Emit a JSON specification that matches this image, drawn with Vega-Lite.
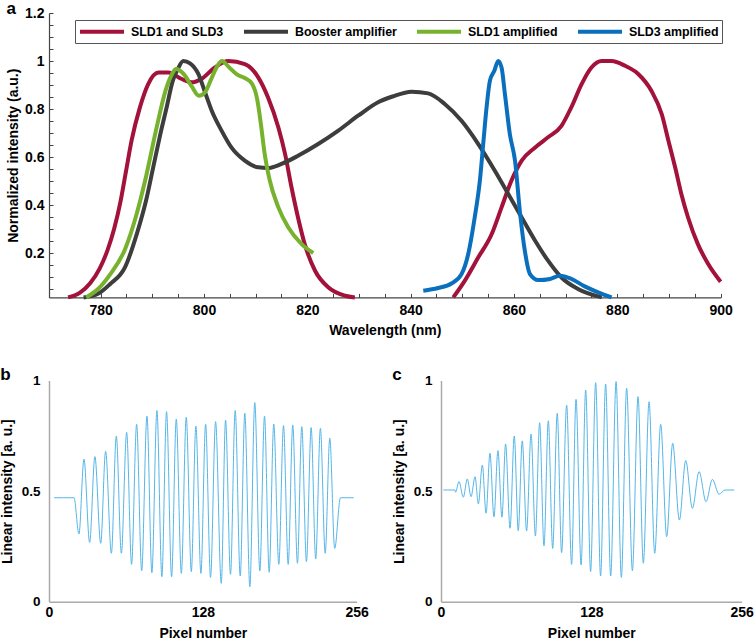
{
  "$schema": "https://vega.github.io/schema/vega-lite/v6.json",
  "padding": {"left": 0, "top": 0, "right": 0, "bottom": 0},
  "background": "white",
  "config": {
    "font": "Liberation Sans",
    "view": {"stroke": null},
    "title": {"fontSize": 17, "fontWeight": "bold", "anchor": "start", "frame": "bounds", "offset": -10, "baseline": "alphabetic", "color": "black"},
    "axis": {"labelFontWeight": "bold", "titleFontWeight": "bold", "labelColor": "black", "titleColor": "black", "grid": false, "labelOverlap": false, "labelFlush": false, "labelFontSize": 14, "titleFontSize": 14}
  },
  "datasets": {
    "spec": [
      {"series": "SLD1 and SLD3", "seg": "r1", "wl": 773.7, "v": 0.015},
      {"series": "SLD1 and SLD3", "seg": "r1", "wl": 776.0, "v": 0.035},
      {"series": "SLD1 and SLD3", "seg": "r1", "wl": 778.0, "v": 0.075},
      {"series": "SLD1 and SLD3", "seg": "r1", "wl": 779.8, "v": 0.135},
      {"series": "SLD1 and SLD3", "seg": "r1", "wl": 781.3, "v": 0.21},
      {"series": "SLD1 and SLD3", "seg": "r1", "wl": 782.6, "v": 0.3},
      {"series": "SLD1 and SLD3", "seg": "r1", "wl": 783.8, "v": 0.41},
      {"series": "SLD1 and SLD3", "seg": "r1", "wl": 784.9, "v": 0.54},
      {"series": "SLD1 and SLD3", "seg": "r1", "wl": 786.0, "v": 0.67},
      {"series": "SLD1 and SLD3", "seg": "r1", "wl": 787.6, "v": 0.807},
      {"series": "SLD1 and SLD3", "seg": "r1", "wl": 789.2, "v": 0.904},
      {"series": "SLD1 and SLD3", "seg": "r1", "wl": 791.2, "v": 0.952},
      {"series": "SLD1 and SLD3", "seg": "r1", "wl": 793.1, "v": 0.952},
      {"series": "SLD1 and SLD3", "seg": "r1", "wl": 795.7, "v": 0.925},
      {"series": "SLD1 and SLD3", "seg": "r1", "wl": 797.6, "v": 0.911},
      {"series": "SLD1 and SLD3", "seg": "r1", "wl": 799.5, "v": 0.925},
      {"series": "SLD1 and SLD3", "seg": "r1", "wl": 802.1, "v": 0.973},
      {"series": "SLD1 and SLD3", "seg": "r1", "wl": 804.7, "v": 1.0},
      {"series": "SLD1 and SLD3", "seg": "r1", "wl": 807.9, "v": 0.987},
      {"series": "SLD1 and SLD3", "seg": "r1", "wl": 810.5, "v": 0.932},
      {"series": "SLD1 and SLD3", "seg": "r1", "wl": 812.4, "v": 0.848},
      {"series": "SLD1 and SLD3", "seg": "r1", "wl": 814.4, "v": 0.723},
      {"series": "SLD1 and SLD3", "seg": "r1", "wl": 815.7, "v": 0.612},
      {"series": "SLD1 and SLD3", "seg": "r1", "wl": 816.95, "v": 0.473},
      {"series": "SLD1 and SLD3", "seg": "r1", "wl": 818.2, "v": 0.348},
      {"series": "SLD1 and SLD3", "seg": "r1", "wl": 819.5, "v": 0.237},
      {"series": "SLD1 and SLD3", "seg": "r1", "wl": 821.5, "v": 0.126},
      {"series": "SLD1 and SLD3", "seg": "r1", "wl": 824.05, "v": 0.057},
      {"series": "SLD1 and SLD3", "seg": "r1", "wl": 827.3, "v": 0.022},
      {"series": "SLD1 and SLD3", "seg": "r1", "wl": 829.2, "v": 0.015},
      {"series": "SLD1 and SLD3", "seg": "r2", "wl": 848.25, "v": 0.015},
      {"series": "SLD1 and SLD3", "seg": "r2", "wl": 850.5, "v": 0.085},
      {"series": "SLD1 and SLD3", "seg": "r2", "wl": 853.1, "v": 0.182},
      {"series": "SLD1 and SLD3", "seg": "r2", "wl": 855.7, "v": 0.279},
      {"series": "SLD1 and SLD3", "seg": "r2", "wl": 857.6, "v": 0.39},
      {"series": "SLD1 and SLD3", "seg": "r2", "wl": 859.5, "v": 0.501},
      {"series": "SLD1 and SLD3", "seg": "r2", "wl": 861.5, "v": 0.585},
      {"series": "SLD1 and SLD3", "seg": "r2", "wl": 864.1, "v": 0.64},
      {"series": "SLD1 and SLD3", "seg": "r2", "wl": 866.6, "v": 0.682},
      {"series": "SLD1 and SLD3", "seg": "r2", "wl": 869.2, "v": 0.73},
      {"series": "SLD1 and SLD3", "seg": "r2", "wl": 871.1, "v": 0.807},
      {"series": "SLD1 and SLD3", "seg": "r2", "wl": 873.1, "v": 0.904},
      {"series": "SLD1 and SLD3", "seg": "r2", "wl": 875.0, "v": 0.973},
      {"series": "SLD1 and SLD3", "seg": "r2", "wl": 877.0, "v": 1.0},
      {"series": "SLD1 and SLD3", "seg": "r2", "wl": 878.9, "v": 1.0},
      {"series": "SLD1 and SLD3", "seg": "r2", "wl": 881.5, "v": 0.98},
      {"series": "SLD1 and SLD3", "seg": "r2", "wl": 884.05, "v": 0.946},
      {"series": "SLD1 and SLD3", "seg": "r2", "wl": 886.6, "v": 0.876},
      {"series": "SLD1 and SLD3", "seg": "r2", "wl": 888.6, "v": 0.779},
      {"series": "SLD1 and SLD3", "seg": "r2", "wl": 889.9, "v": 0.668},
      {"series": "SLD1 and SLD3", "seg": "r2", "wl": 891.2, "v": 0.557},
      {"series": "SLD1 and SLD3", "seg": "r2", "wl": 892.4, "v": 0.446},
      {"series": "SLD1 and SLD3", "seg": "r2", "wl": 893.7, "v": 0.348},
      {"series": "SLD1 and SLD3", "seg": "r2", "wl": 895.6, "v": 0.237},
      {"series": "SLD1 and SLD3", "seg": "r2", "wl": 897.6, "v": 0.154},
      {"series": "SLD1 and SLD3", "seg": "r2", "wl": 900.0, "v": 0.08},
      {"series": "Booster amplifier", "seg": "k", "wl": 776.7, "v": 0.015},
      {"series": "Booster amplifier", "seg": "k", "wl": 779.5, "v": 0.03},
      {"series": "Booster amplifier", "seg": "k", "wl": 781.8, "v": 0.07},
      {"series": "Booster amplifier", "seg": "k", "wl": 784.7, "v": 0.14},
      {"series": "Booster amplifier", "seg": "k", "wl": 787.0, "v": 0.28},
      {"series": "Booster amplifier", "seg": "k", "wl": 788.8, "v": 0.42},
      {"series": "Booster amplifier", "seg": "k", "wl": 790.2, "v": 0.56},
      {"series": "Booster amplifier", "seg": "k", "wl": 791.5, "v": 0.69},
      {"series": "Booster amplifier", "seg": "k", "wl": 792.7, "v": 0.8},
      {"series": "Booster amplifier", "seg": "k", "wl": 794.0, "v": 0.92},
      {"series": "Booster amplifier", "seg": "k", "wl": 795.0, "v": 0.97},
      {"series": "Booster amplifier", "seg": "k", "wl": 796.0, "v": 1.0},
      {"series": "Booster amplifier", "seg": "k", "wl": 797.3, "v": 0.99},
      {"series": "Booster amplifier", "seg": "k", "wl": 798.9, "v": 0.946},
      {"series": "Booster amplifier", "seg": "k", "wl": 800.2, "v": 0.87},
      {"series": "Booster amplifier", "seg": "k", "wl": 801.5, "v": 0.793},
      {"series": "Booster amplifier", "seg": "k", "wl": 803.4, "v": 0.71},
      {"series": "Booster amplifier", "seg": "k", "wl": 805.3, "v": 0.64},
      {"series": "Booster amplifier", "seg": "k", "wl": 807.9, "v": 0.585},
      {"series": "Booster amplifier", "seg": "k", "wl": 810.5, "v": 0.557},
      {"series": "Booster amplifier", "seg": "k", "wl": 812.4, "v": 0.554},
      {"series": "Booster amplifier", "seg": "k", "wl": 815.0, "v": 0.571},
      {"series": "Booster amplifier", "seg": "k", "wl": 818.2, "v": 0.605},
      {"series": "Booster amplifier", "seg": "k", "wl": 822.1, "v": 0.654},
      {"series": "Booster amplifier", "seg": "k", "wl": 826.0, "v": 0.71},
      {"series": "Booster amplifier", "seg": "k", "wl": 829.9, "v": 0.773},
      {"series": "Booster amplifier", "seg": "k", "wl": 833.7, "v": 0.828},
      {"series": "Booster amplifier", "seg": "k", "wl": 836.5, "v": 0.852},
      {"series": "Booster amplifier", "seg": "k", "wl": 840.2, "v": 0.872},
      {"series": "Booster amplifier", "seg": "k", "wl": 843.4, "v": 0.865},
      {"series": "Booster amplifier", "seg": "k", "wl": 846.6, "v": 0.821},
      {"series": "Booster amplifier", "seg": "k", "wl": 849.85, "v": 0.751},
      {"series": "Booster amplifier", "seg": "k", "wl": 853.1, "v": 0.654},
      {"series": "Booster amplifier", "seg": "k", "wl": 856.3, "v": 0.543},
      {"series": "Booster amplifier", "seg": "k", "wl": 858.9, "v": 0.446},
      {"series": "Booster amplifier", "seg": "k", "wl": 861.5, "v": 0.348},
      {"series": "Booster amplifier", "seg": "k", "wl": 864.1, "v": 0.251},
      {"series": "Booster amplifier", "seg": "k", "wl": 866.6, "v": 0.168},
      {"series": "Booster amplifier", "seg": "k", "wl": 869.2, "v": 0.098},
      {"series": "Booster amplifier", "seg": "k", "wl": 872.4, "v": 0.05},
      {"series": "Booster amplifier", "seg": "k", "wl": 877.0, "v": 0.015},
      {"series": "SLD1 amplified", "seg": "g", "wl": 777.2, "v": 0.015},
      {"series": "SLD1 amplified", "seg": "g", "wl": 779.5, "v": 0.05},
      {"series": "SLD1 amplified", "seg": "g", "wl": 781.8, "v": 0.11},
      {"series": "SLD1 amplified", "seg": "g", "wl": 784.7, "v": 0.215},
      {"series": "SLD1 amplified", "seg": "g", "wl": 786.8, "v": 0.35},
      {"series": "SLD1 amplified", "seg": "g", "wl": 788.8, "v": 0.52},
      {"series": "SLD1 amplified", "seg": "g", "wl": 790.8, "v": 0.72},
      {"series": "SLD1 amplified", "seg": "g", "wl": 792.6, "v": 0.88},
      {"series": "SLD1 amplified", "seg": "g", "wl": 793.8, "v": 0.945},
      {"series": "SLD1 amplified", "seg": "g", "wl": 794.6, "v": 0.967},
      {"series": "SLD1 amplified", "seg": "g", "wl": 796.1, "v": 0.945},
      {"series": "SLD1 amplified", "seg": "g", "wl": 797.6, "v": 0.895},
      {"series": "SLD1 amplified", "seg": "g", "wl": 799.0, "v": 0.855},
      {"series": "SLD1 amplified", "seg": "g", "wl": 800.2, "v": 0.87},
      {"series": "SLD1 amplified", "seg": "g", "wl": 801.5, "v": 0.93},
      {"series": "SLD1 amplified", "seg": "g", "wl": 802.6, "v": 0.98},
      {"series": "SLD1 amplified", "seg": "g", "wl": 803.5, "v": 1.0},
      {"series": "SLD1 amplified", "seg": "g", "wl": 804.8, "v": 0.975},
      {"series": "SLD1 amplified", "seg": "g", "wl": 806.3, "v": 0.945},
      {"series": "SLD1 amplified", "seg": "g", "wl": 807.9, "v": 0.929},
      {"series": "SLD1 amplified", "seg": "g", "wl": 809.3, "v": 0.905},
      {"series": "SLD1 amplified", "seg": "g", "wl": 810.3, "v": 0.84},
      {"series": "SLD1 amplified", "seg": "g", "wl": 811.0, "v": 0.74},
      {"series": "SLD1 amplified", "seg": "g", "wl": 811.7, "v": 0.62},
      {"series": "SLD1 amplified", "seg": "g", "wl": 812.7, "v": 0.505},
      {"series": "SLD1 amplified", "seg": "g", "wl": 814.4, "v": 0.39},
      {"series": "SLD1 amplified", "seg": "g", "wl": 816.3, "v": 0.307},
      {"series": "SLD1 amplified", "seg": "g", "wl": 818.9, "v": 0.237},
      {"series": "SLD1 amplified", "seg": "g", "wl": 821.15, "v": 0.2},
      {"series": "SLD3 amplified", "seg": "b", "wl": 842.45, "v": 0.043},
      {"series": "SLD3 amplified", "seg": "b", "wl": 845.3, "v": 0.054},
      {"series": "SLD3 amplified", "seg": "b", "wl": 847.9, "v": 0.073},
      {"series": "SLD3 amplified", "seg": "b", "wl": 849.85, "v": 0.112},
      {"series": "SLD3 amplified", "seg": "b", "wl": 851.15, "v": 0.196},
      {"series": "SLD3 amplified", "seg": "b", "wl": 852.4, "v": 0.348},
      {"series": "SLD3 amplified", "seg": "b", "wl": 853.4, "v": 0.501},
      {"series": "SLD3 amplified", "seg": "b", "wl": 854.05, "v": 0.654},
      {"series": "SLD3 amplified", "seg": "b", "wl": 854.7, "v": 0.807},
      {"series": "SLD3 amplified", "seg": "b", "wl": 855.35, "v": 0.918},
      {"series": "SLD3 amplified", "seg": "b", "wl": 856.2, "v": 0.959},
      {"series": "SLD3 amplified", "seg": "b", "wl": 856.95, "v": 1.0},
      {"series": "SLD3 amplified", "seg": "b", "wl": 857.6, "v": 0.973},
      {"series": "SLD3 amplified", "seg": "b", "wl": 858.25, "v": 0.862},
      {"series": "SLD3 amplified", "seg": "b", "wl": 859.2, "v": 0.696},
      {"series": "SLD3 amplified", "seg": "b", "wl": 860.2, "v": 0.585},
      {"series": "SLD3 amplified", "seg": "b", "wl": 861.2, "v": 0.362},
      {"series": "SLD3 amplified", "seg": "b", "wl": 862.1, "v": 0.21},
      {"series": "SLD3 amplified", "seg": "b", "wl": 863.1, "v": 0.112},
      {"series": "SLD3 amplified", "seg": "b", "wl": 864.7, "v": 0.087},
      {"series": "SLD3 amplified", "seg": "b", "wl": 867.0, "v": 0.092},
      {"series": "SLD3 amplified", "seg": "b", "wl": 868.9, "v": 0.105},
      {"series": "SLD3 amplified", "seg": "b", "wl": 871.1, "v": 0.092},
      {"series": "SLD3 amplified", "seg": "b", "wl": 873.7, "v": 0.061},
      {"series": "SLD3 amplified", "seg": "b", "wl": 876.3, "v": 0.036},
      {"series": "SLD3 amplified", "seg": "b", "wl": 878.9, "v": 0.015}
    ],
    "b": [
      {"p": 4.2, "v": 0.47}, {"p": 12, "v": 0.47}, {"p": 20.8, "v": 0.47},
      {"p": 24.9, "v": 0.306}, {"p": 29.1, "v": 0.644}, {"p": 33.8, "v": 0.268}, {"p": 38.2, "v": 0.656},
      {"p": 43.0, "v": 0.264}, {"p": 47.1, "v": 0.68}, {"p": 51.9, "v": 0.219}, {"p": 56.0, "v": 0.749},
      {"p": 60.2, "v": 0.219}, {"p": 64.6, "v": 0.766}, {"p": 68.7, "v": 0.169}, {"p": 72.9, "v": 0.802},
      {"p": 77.1, "v": 0.14}, {"p": 81.5, "v": 0.839}, {"p": 85.6, "v": 0.131}, {"p": 89.8, "v": 0.864},
      {"p": 93.9, "v": 0.113}, {"p": 97.8, "v": 0.859}, {"p": 102.0, "v": 0.113}, {"p": 105.9, "v": 0.826},
      {"p": 110.1, "v": 0.128}, {"p": 114.2, "v": 0.834}, {"p": 118.4, "v": 0.136}, {"p": 122.2, "v": 0.794},
      {"p": 126.4, "v": 0.128}, {"p": 130.3, "v": 0.802}, {"p": 134.4, "v": 0.11}, {"p": 138.6, "v": 0.814},
      {"p": 143.3, "v": 0.083}, {"p": 146.9, "v": 0.821}, {"p": 151.0, "v": 0.124}, {"p": 154.9, "v": 0.864},
      {"p": 159.1, "v": 0.116}, {"p": 162.9, "v": 0.852}, {"p": 167.1, "v": 0.068}, {"p": 171.2, "v": 0.9},
      {"p": 175.4, "v": 0.139}, {"p": 179.3, "v": 0.839}, {"p": 183.2, "v": 0.133}, {"p": 187.0, "v": 0.803},
      {"p": 191.2, "v": 0.169}, {"p": 195.1, "v": 0.796}, {"p": 199.0, "v": 0.169}, {"p": 202.8, "v": 0.799},
      {"p": 206.7, "v": 0.174}, {"p": 210.3, "v": 0.791}, {"p": 214.2, "v": 0.181}, {"p": 218.1, "v": 0.787},
      {"p": 221.9, "v": 0.193}, {"p": 225.8, "v": 0.784}, {"p": 229.8, "v": 0.219}, {"p": 233.6, "v": 0.739},
      {"p": 237.7, "v": 0.241}, {"p": 242.5, "v": 0.47}, {"p": 248, "v": 0.47}, {"p": 253.5, "v": 0.47}
    ],
    "c": [
      {"p": 2, "v": 0.505}, {"p": 7, "v": 0.505}, {"p": 11.9, "v": 0.505}, {"p": 12.4, "v": 0.495},
      {"p": 15.3, "v": 0.543}, {"p": 19.0, "v": 0.472}, {"p": 22.4, "v": 0.555}, {"p": 25.6, "v": 0.475},
      {"p": 29.0, "v": 0.565}, {"p": 31.8, "v": 0.442}, {"p": 35.2, "v": 0.618}, {"p": 38.4, "v": 0.4},
      {"p": 41.7, "v": 0.671}, {"p": 45.1, "v": 0.384}, {"p": 48.5, "v": 0.683}, {"p": 51.9, "v": 0.382},
      {"p": 55.0, "v": 0.713}, {"p": 58.8, "v": 0.332}, {"p": 62.4, "v": 0.749}, {"p": 65.8, "v": 0.321},
      {"p": 69.2, "v": 0.727}, {"p": 72.9, "v": 0.32}, {"p": 76.7, "v": 0.758}, {"p": 80.4, "v": 0.297},
      {"p": 84.0, "v": 0.809}, {"p": 87.7, "v": 0.252}, {"p": 91.4, "v": 0.818}, {"p": 95.1, "v": 0.241},
      {"p": 99.0, "v": 0.852}, {"p": 102.7, "v": 0.222}, {"p": 107.0, "v": 0.889}, {"p": 111.2, "v": 0.169},
      {"p": 115.0, "v": 0.915}, {"p": 119.3, "v": 0.166}, {"p": 123.2, "v": 0.957}, {"p": 127.4, "v": 0.136},
      {"p": 131.7, "v": 0.99}, {"p": 135.9, "v": 0.116}, {"p": 140.2, "v": 0.984}, {"p": 144.5, "v": 0.116},
      {"p": 149.1, "v": 0.995}, {"p": 153.6, "v": 0.11}, {"p": 158.1, "v": 0.965}, {"p": 163.0, "v": 0.14},
      {"p": 167.8, "v": 0.927}, {"p": 172.3, "v": 0.174}, {"p": 177.2, "v": 0.904}, {"p": 182.0, "v": 0.219},
      {"p": 187.1, "v": 0.802}, {"p": 192.2, "v": 0.294}, {"p": 197.3, "v": 0.716}, {"p": 203.0, "v": 0.369},
      {"p": 208.4, "v": 0.638}, {"p": 214.1, "v": 0.422}, {"p": 219.8, "v": 0.588}, {"p": 225.7, "v": 0.452},
      {"p": 231.1, "v": 0.553}, {"p": 236.8, "v": 0.486}, {"p": 241.9, "v": 0.505}, {"p": 249.8, "v": 0.505}
    ]
  },
  "spacing": 27.5,
  "vconcat": [
    {
      "title": {"text": "a", "offset": -12},
      "width": 671.6,
      "height": 284.4,
      "data": {"name": "spec"},
      "mark": {"type": "line", "strokeWidth": 4, "interpolate": "monotone"},
      "encoding": {
        "x": {
          "field": "wl", "type": "quantitative",
          "scale": {"domain": [770, 900], "nice": false, "zero": false},
          "axis": {
            "title": "Wavelength (nm)",
            "values": [770, 775, 780, 785, 790, 795, 800, 805, 810, 815, 820, 825, 830, 835, 840, 845, 850, 855, 860, 865, 870, 875, 880, 885, 890, 895, 900],
            "labelExpr": "datum.value % 20 == 0 ? datum.label : ''",
            "format": "d",
            "tickSize": -4, "labelPadding": 10, "titlePadding": 6,
            "domainColor": "#444", "tickColor": "#444", "domainWidth": 1.2, "tickWidth": 1
          }
        },
        "y": {
          "field": "v", "type": "quantitative",
          "scale": {"domain": [0.015, 1.2], "nice": false, "zero": false},
          "axis": {
            "title": "Normalized intensity (a.u.)",
            "values": [0.05, 0.1, 0.15, 0.2, 0.25, 0.3, 0.35, 0.4, 0.45, 0.5, 0.55, 0.6, 0.65, 0.7, 0.75, 0.8, 0.85, 0.9, 0.95, 1, 1.05, 1.1, 1.15, 1.2],
            "format": "~g",
            "labelExpr": "indexof([0.2, 0.4, 0.6, 0.8, 1, 1.2], datum.value) >= 0 ? datum.label : ''",
            "tickSize": -4, "labelPadding": 9, "titlePadding": 4,
            "domainColor": "#444", "tickColor": "#444", "domainWidth": 1.2, "tickWidth": 1
          }
        },
        "color": {
          "field": "series", "type": "nominal",
          "scale": {"domain": ["SLD1 and SLD3", "Booster amplifier", "SLD1 amplified", "SLD3 amplified"], "range": ["#A3123A", "#3D3D3D", "#77B22E", "#0A70BD"]},
          "legend": {
            "title": null, "orient": "none", "legendX": 26, "legendY": 7, "direction": "horizontal",
            "symbolType": "M-1,0H5.77", "symbolSize": 169, "symbolStrokeWidth": 4,
            "labelOffset": 36, "columnPadding": 12, "padding": 3,
            "labelFont": "Liberation Sans", "labelFontSize": 12.4, "labelFontWeight": "bold", "labelColor": "black",
            "strokeColor": "#555", "fillColor": "white"
          }
        },
        "detail": {"field": "seg"}
      }
    },
    {
      "spacing": 23,
      "hconcat": [
        {
          "title": {"text": "b"},
          "width": 307.7,
          "height": 221.2,
          "data": {"name": "b"},
          "mark": {"type": "line", "strokeWidth": 1, "color": "#55B6E8", "interpolate": "monotone"},
          "encoding": {
            "x": {"field": "p", "type": "quantitative", "scale": {"domain": [0, 256], "nice": false},
              "axis": {"title": "Pixel number", "values": [0, 128, 256], "format": "d", "ticks": false, "domainColor": "#aaa", "domainWidth": 1.5, "labelPadding": 4, "titlePadding": 7}},
            "y": {"field": "v", "type": "quantitative", "scale": {"domain": [0, 1], "nice": false},
              "axis": {"title": "Linear intensity [a. u.]", "values": [0, 0.5, 1], "format": "~g", "ticks": false, "domainColor": "#aaa", "domainWidth": 1.5, "labelFontSize": 13.5, "labelPadding": 9, "titlePadding": 7}}
          }
        },
        {
          "title": {"text": "c"},
          "width": 300.6,
          "height": 221.2,
          "data": {"name": "c"},
          "mark": {"type": "line", "strokeWidth": 1, "color": "#55B6E8", "interpolate": "monotone"},
          "encoding": {
            "x": {"field": "p", "type": "quantitative", "scale": {"domain": [0, 256], "nice": false},
              "axis": {"title": "Pixel number", "values": [0, 128, 256], "format": "d", "ticks": false, "domainColor": "#aaa", "domainWidth": 1.5, "labelPadding": 4, "titlePadding": 7}},
            "y": {"field": "v", "type": "quantitative", "scale": {"domain": [0, 1], "nice": false},
              "axis": {"title": "Linear intensity [a. u.]", "values": [0, 0.5, 1], "format": "~g", "ticks": false, "domainColor": "#aaa", "domainWidth": 1.5, "labelFontSize": 13.5, "labelPadding": 9, "titlePadding": 7}}
          }
        }
      ]
    }
  ]
}
